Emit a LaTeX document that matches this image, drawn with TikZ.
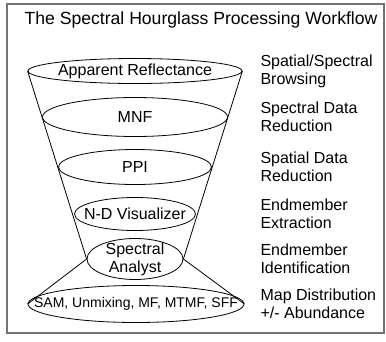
\documentclass[tikz,border=0pt]{standalone}
\usepackage{fontspec}
\setmainfont{Liberation Sans}
\usepackage{tikz}
\usetikzlibrary{shapes.geometric}

\begin{document}
\begin{tikzpicture}[
    x=1pt, y=-1pt,
    tier/.style 2 args={
        draw, ellipse, line width=0.8pt,
        inner sep=0pt,
        minimum width=#1,
        minimum height=#2
    },
    tiertext/.style={font=\fontsize{16}{18}\selectfont, align=center},
    steplabel/.style={
        anchor=west, align=left,
        font=\fontsize{16}{18}\selectfont
    },
    funnel/.style={line width=0.8pt}
]
\useasboundingbox (0,0) rectangle (386,341);
\draw[black!55, line width=1.3pt] (7,4) rectangle (384,333);

\node[font=\fontsize{17.6}{20}\selectfont] (title) at (201,20) {The Spectral Hourglass Processing Workflow};

% the hourglass tiers
\node[tier={214pt}{25pt}, label={[tiertext]center:Apparent Reflectance}] (refl) at (135,71) {};
\node[tier={185pt}{39pt}, label={[tiertext]center:MNF}] (mnf) at (135,117) {};
\node[tier={153pt}{35pt}, label={[tiertext]center:PPI}] (ppi) at (135,167) {};
\node[tier={121pt}{33pt}, label={[tiertext]center:N-D Visualizer}] (ndvis) at (135,214) {};
\node[tier={96pt}{41pt}, label={[tiertext]center:Spectral\\Analyst}] (analyst) at (135,259) {};
\node[tier={216pt}{37pt}, label={[tiertext, font=\fontsize{14}{16}\selectfont]center:SAM, Unmixing, MF, MTMF, SFF}] (mapping) at (136,304) {};

\draw[funnel] (refl.west) -- (analyst.west) -- (mapping.west);
\draw[funnel] (refl.east) -- (analyst.east) -- (mapping.east);

% what each tier does
\coordinate (col) at (257,0);
\node[steplabel] (browse) at (refl -| col) {Spatial/Spectral\\Browsing};
\node[steplabel] (specred) at (mnf -| col) {Spectral Data\\Reduction};
\node[steplabel] (spatred) at (ppi -| col) {Spatial Data\\Reduction};
\node[steplabel] (extract) at (ndvis -| col) {Endmember\\Extraction};
\node[steplabel] (ident) at (analyst -| col) {Endmember\\Identification};
\node[steplabel] (mapdist) at (mapping -| col) {Map Distribution\\+/- Abundance};
\end{tikzpicture}
\end{document}
